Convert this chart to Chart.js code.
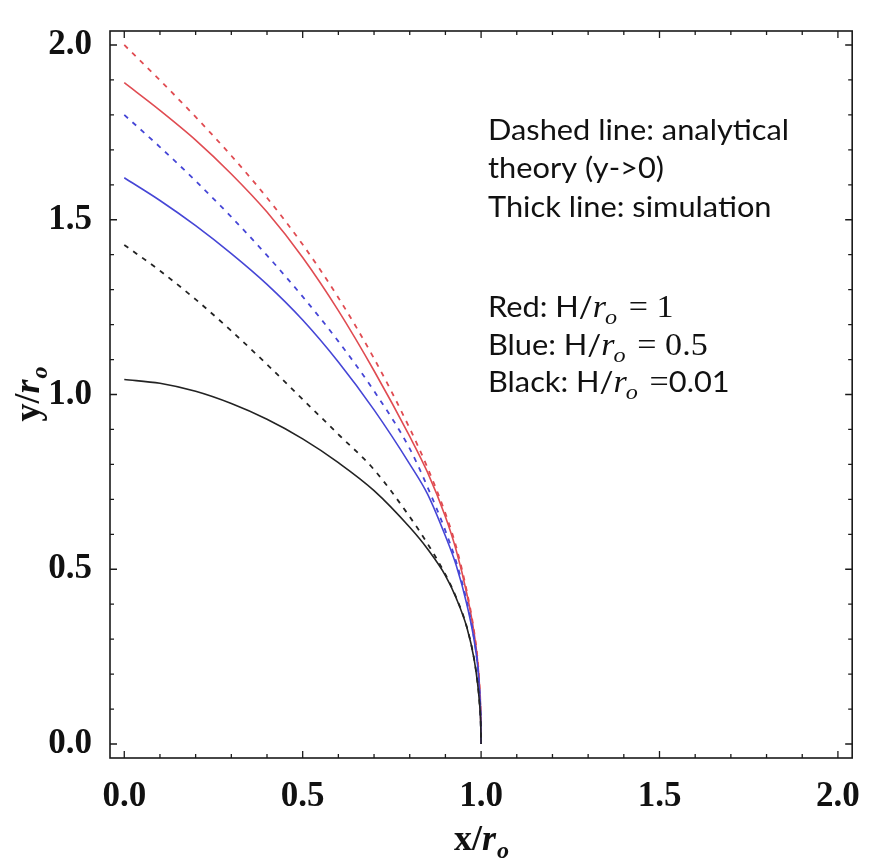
<!DOCTYPE html>
<html><head><meta charset="utf-8">
<script src="https://cdn.jsdelivr.net/npm/chart.js@4.4.0/dist/chart.umd.min.js"></script>
<style>html,body{margin:0;padding:0;background:#fff;}#wrap{width:870px;height:864px;}</style>
</head><body><div id="wrap"><canvas id="c" width="870" height="864"></canvas></div>
<script>
// ---- data ----
const xValues     = [0, 0.1, 0.2, 0.3, 0.4, 0.5, 0.6, 0.7, 0.8, 0.85, 0.9, 0.93, 0.96, 0.98, 0.99, 0.995, 0.999, 1.0];
const redTheory   = [2.0, 1.899, 1.794, 1.683, 1.563, 1.429, 1.277, 1.103, 0.903, 0.79, 0.66, 0.565, 0.437, 0.325, 0.245, 0.177, 0.08, 0];
const redSim      = [1.892, 1.813, 1.728, 1.631, 1.522, 1.392, 1.240, 1.068, 0.880, 0.777, 0.65, 0.555, 0.43, 0.32, 0.24, 0.175, 0.078, 0];
const blueTheory  = [1.80, 1.708, 1.611, 1.508, 1.398, 1.28, 1.152, 1.01, 0.845, 0.735, 0.61, 0.522, 0.408, 0.304, 0.229, 0.163, 0.073, 0];
const blueSim     = [1.62, 1.555, 1.483, 1.403, 1.315, 1.213, 1.093, 0.956, 0.801, 0.715, 0.595, 0.512, 0.40, 0.30, 0.226, 0.16, 0.072, 0];
const blackTheory = [1.428, 1.354, 1.272, 1.182, 1.086, 0.986, 0.886, 0.785, 0.650, 0.573, 0.485, 0.42, 0.335, 0.246, 0.176, 0.124, 0.055, 0];
const blackSim    = [1.043, 1.032, 1.009, 0.974, 0.929, 0.873, 0.805, 0.725, 0.620, 0.558, 0.482, 0.418, 0.334, 0.245, 0.175, 0.123, 0.054, 0];

const majorTicks = [0.0, 0.5, 1.0, 1.5, 2.0];
const minorTicks = [0.1, 0.2, 0.3, 0.4, 0.6, 0.7, 0.8, 0.9, 1.1, 1.2, 1.3, 1.4, 1.6, 1.7, 1.8, 1.9];
const xTitle = ['x/', 'r', 'o'];
const yTitle = ['y/', 'r', 'o'];
const noteLines = ['Dashed line: analytical', 'theory (y->0)', 'Thick line: simulation'];
const caseNames = ['Red: H/', 'Blue: H/', 'Black: H/'];
const caseValues = [' = 1', ' = 0.5', ' =0.01'];

const RED = 'rgb(224,76,82)', BLUE = 'rgb(70,70,214)', BLACK = 'rgb(35,35,35)';
const mk = ys => xValues.map((x, i) => ({x: x, y: ys[i]}));
const DASH = [5, 6];

const framePlugin = {
  id: 'frame',
  afterDatasetsDraw(chart) {
    const {ctx, chartArea: a, scales: {x, y}} = chart;
    ctx.save();
    ctx.strokeStyle = '#1a1a1a';
    ctx.lineWidth = 1.6;
    ctx.strokeRect(a.left, a.top, a.right - a.left, a.bottom - a.top);
    ctx.lineWidth = 1.3;
    const tick = (v, len) => {
      const px = x.getPixelForValue(v), py = y.getPixelForValue(v);
      ctx.beginPath();
      ctx.moveTo(px, a.bottom); ctx.lineTo(px, a.bottom - len);
      ctx.moveTo(px, a.top); ctx.lineTo(px, a.top + len);
      ctx.moveTo(a.left, py); ctx.lineTo(a.left + len, py);
      ctx.moveTo(a.right, py); ctx.lineTo(a.right - len, py);
      ctx.stroke();
    };
    majorTicks.forEach(v => tick(v, 7));
    minorTicks.forEach(v => tick(v, 4));
    ctx.restore();
  },
  afterDraw(chart) {
    const {ctx, chartArea: a} = chart;
    ctx.save();
    ctx.fillStyle = '#111';
    ctx.textBaseline = 'alphabetic';
    const big = 'bold 36px "Liberation Serif"', bigI = 'italic bold 36px "Liberation Serif"', sub = 'italic bold 24px "Liberation Serif"';
    const drawTitle = (parts) => {
      const fonts = [big, bigI, sub];
      let w = 0;
      const ws = parts.map((p, i) => { ctx.font = fonts[i]; const m = ctx.measureText(p).width; w += m; return m; });
      let cx = -w / 2;
      parts.forEach((p, i) => { ctx.font = fonts[i]; ctx.fillText(p, cx, i === 2 ? 8 : 0); cx += ws[i] + (i === 1 ? 1 : 0); });
    };
    ctx.save(); ctx.translate((a.left + a.right) / 2, 850); drawTitle(xTitle); ctx.restore();
    ctx.save(); ctx.translate(39, (a.top + a.bottom) / 2); ctx.rotate(-Math.PI / 2); drawTitle(yTitle); ctx.restore();

    const sans = '28px Lato', mathI = 'italic 31px "Liberation Serif"', mathS = 'italic 22px "Liberation Serif"', mathR = '31px "Liberation Serif"';
    ctx.font = sans;
    const sx = 301 / ctx.measureText(noteLines[0]).width;
    const x0 = 488;
    const base = [140, 178, 217];
    noteLines.forEach((t, i) => {
      ctx.save(); ctx.translate(x0, base[i]); ctx.scale(sx, 1); ctx.font = sans; ctx.fillText(t, 0, 0); ctx.restore();
    });
    const base2 = [317, 355, 392];
    caseNames.forEach((t, i) => {
      ctx.save(); ctx.translate(x0, base2[i]); ctx.scale(sx, 1);
      let cx = 0;
      ctx.font = sans; ctx.fillText(t, cx, 0); cx += ctx.measureText(t).width;
      ctx.font = mathI; ctx.fillText('r', cx, 0); cx += ctx.measureText('r').width;
      ctx.font = mathS; ctx.fillText('o', cx - 1, 7); cx += ctx.measureText('o').width + 2;
      const v = caseValues[i];
      if (i < 2) {
        ctx.font = mathR; ctx.fillText(v, cx, 0);
      } else {
        ctx.font = mathR; ctx.fillText(' =', cx, 0); cx += ctx.measureText(' =').width;
        ctx.font = sans; ctx.fillText('0.01', cx, 0);
      }
      ctx.restore();
    });
    ctx.restore();
  }
};

const tickFont = {family: 'Liberation Serif', weight: 'bold', size: 35};
new Chart(document.getElementById('c'), {
  type: 'scatter',
  data: {
    datasets: [
      {label: 'Black theory', data: mk(blackTheory), borderColor: BLACK, borderDash: DASH, borderWidth: 1.8},
      {label: 'Black simulation', data: mk(blackSim), borderColor: BLACK, borderWidth: 1.6},
      {label: 'Blue theory', data: mk(blueTheory), borderColor: BLUE, borderDash: DASH, borderWidth: 1.8},
      {label: 'Blue simulation', data: mk(blueSim), borderColor: BLUE, borderWidth: 1.6},
      {label: 'Red theory', data: mk(redTheory), borderColor: RED, borderDash: DASH, borderWidth: 1.8},
      {label: 'Red simulation', data: mk(redSim), borderColor: RED, borderWidth: 1.6}
    ].map(d => Object.assign(d, {showLine: true, pointRadius: 0, fill: false, cubicInterpolationMode: 'monotone'}))
  },
  options: {
    responsive: false,
    animation: false,
    devicePixelRatio: 1,
    layout: {padding: {top: 9, right: 11, left: 0, bottom: 0}},
    plugins: {legend: {display: false}, tooltip: {enabled: false}},
    scales: {
      x: {
        type: 'linear', min: -0.04, max: 2.04,
        afterBuildTicks: s => { s.ticks = majorTicks.map(v => ({value: v})); },
        afterFit: s => { s.height = 106; },
        grid: {display: false}, border: {display: false},
        ticks: {padding: 10, font: tickFont, color: '#111', maxRotation: 0, autoSkip: false, callback: v => Number(v).toFixed(1)}
      },
      y: {
        type: 'linear', min: -0.04, max: 2.04,
        afterBuildTicks: s => { s.ticks = majorTicks.map(v => ({value: v})); },
        afterFit: s => { s.width = 110; },
        grid: {display: false}, border: {display: false},
        ticks: {padding: 10, font: tickFont, color: '#111', autoSkip: false, callback: v => Number(v).toFixed(1)}
      }
    }
  },
  plugins: [framePlugin]
});
</script>
</body></html>
